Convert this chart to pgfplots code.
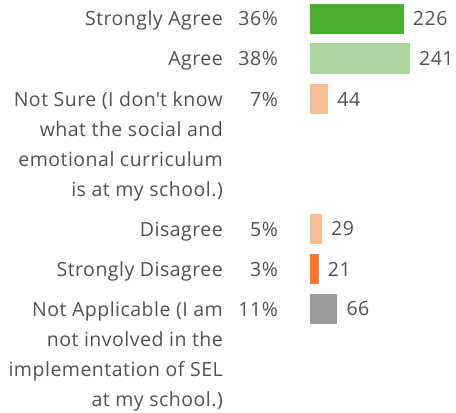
\documentclass[border=0pt]{standalone}
\usepackage{pgfplots}
\pgfplotsset{compat=1.18}
\usepackage{fontspec}
\setmainfont[LetterSpace=2.5]{Open Sans}
\definecolor{txt}{RGB}{82,82,82}
\definecolor{sa}{RGB}{73,175,46}
\definecolor{ag}{RGB}{170,216,160}
\definecolor{ns}{RGB}{244,190,148}
\definecolor{sd}{RGB}{252,120,40}
\definecolor{na}{RGB}{155,155,155}
% x pixel p -> value (p-310)*2.41
\newcommand{\lab}[2]{\node[anchor=base east,inner sep=0pt,text=txt] at (axis cs:-209.7,#1+7) {#2};}
\newcommand{\pct}[2]{\node[anchor=base east,inner sep=0pt,text=txt] at (axis cs:-77.1,#1+7) {#2};}
\begin{document}
\fontsize{19.5bp}{30bp}\selectfont
\begin{tikzpicture}
\begin{axis}[
  width=456bp, height=412bp, scale only axis,
  xmin=-747.1, xmax=351.86, ymin=0, ymax=412,
  y dir=reverse, hide axis, clip=false,
  xbar, bar shift=0pt, bar width=30bp,
  /pgf/number format/assume math mode=true,
  nodes near coords,
  nodes near coords style={anchor=west, inner sep=0pt, xshift=9bp, text=txt, font=\fontsize{19.5bp}{30bp}\selectfont},
]
\path (rel axis cs:0,0) rectangle (rel axis cs:1,1);
\addplot[fill=sa, draw=none] coordinates {(226,19)};
\addplot[fill=ag, draw=none] coordinates {(241,58.5)};
\addplot[fill=ns, draw=none] coordinates {(44,99)};
\addplot[fill=ns, draw=none] coordinates {(29,229)};
\addplot[fill=sd, draw=none] coordinates {(21,269)};
\addplot[fill=na, draw=none] coordinates {(66,309)};
\lab{19}{Strongly Agree}
\lab{58.5}{Agree}
\lab{99}{Not Sure (I don\textquotesingle t know}
\lab{129}{what the social and}
\lab{159}{emotional curriculum}
\lab{189}{is at my school.)}
\lab{229}{Disagree}
\lab{269}{Strongly Disagree}
\lab{309}{Not Applicable (I am}
\lab{339}{not involved in the}
\lab{369}{implementation of SEL}
\lab{399}{at my school.)}
\pct{19}{36\%}
\pct{58.5}{38\%}
\pct{99}{7\%}
\pct{229}{5\%}
\pct{269}{3\%}
\pct{309}{11\%}
\end{axis}
\end{tikzpicture}
\end{document}
